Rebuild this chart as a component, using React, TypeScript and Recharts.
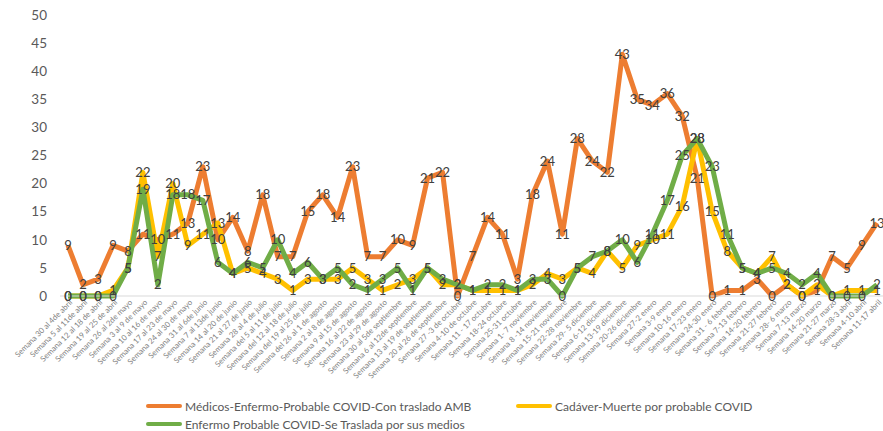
import { LineChart, Line, XAxis, YAxis, LabelList, Legend } from "recharts";

const weeks = [
  "Semana 30 al 4de abril",
  "Semana 5 al 11de abril",
  "Semana 12 al 18 de abril",
  "Semana 19 al 25 de abril",
  "Semana 26 al 2de mayo",
  "Semana 3 al 9 de mayo",
  "Semana 10 al 16 de mayo",
  "Semana 17 al 23 de mayo",
  "Semana 24 al 30 de mayo",
  "Semana 31 al 6de junio",
  "Semana 7 al 13de junio",
  "Semana 14 al 20 de junio",
  "Semana 21 al 27 de junio",
  "Semana 28 al 4 de julio",
  "Semana del 5 al 11 de julio",
  "Semana del 12 al 18 de julio",
  "Semana del 19 al 25 de julio",
  "Semana del 26 al 1 de agosto",
  "Semana 2 al 8 de agosto",
  "Semana 9 al 15 de agosto",
  "Semana 16 al 22 de agosto",
  "Semana 23 al 29 de agosto",
  "Semana 30 al 5de septiembre",
  "Semana 6 al 12de septiembre",
  "Semana 13 al 19 de septiembre",
  "Semana 20 al 26 de septiembre",
  "Semana 27 -3 de octubre",
  "Semana 4-10 de octubre",
  "Semana 11 - 17 octubre",
  "Semana 18-24 octubre",
  "Semana 25-31 octubre",
  "Semana 1- 7 noviembre",
  "Semana 8 -14 noviembre",
  "Semana 15-21 noviembre",
  "Semana 22-28 noviembre",
  "Semana 29- 5 diciembre",
  "Semana 6-12 diciembre",
  "Semana 13-19 diciembre",
  "Semana 20-26 diciembre",
  "Semana 27-2 enero",
  "Semana 3-9 enero",
  "Semana 10-16 enero",
  "Semana 17-23 enero",
  "Semana 24-30 enero",
  "Semana 31 - 6 febrero",
  "Semana 7-13 febrero",
  "Semana 14-20 febrero",
  "Semana 21-27 febrero",
  "Semana 28- 6 marzo",
  "Semana 7-13 marzo",
  "Semana 14-20 marzo",
  "Semana 21-27 marzo",
  "Semana 28-3 abril",
  "Semana 4-10 abril",
  "Semana 11-17 abril",
];

// Médicos-Enfermo-Probable COVID-Con traslado AMB
const medicos = [
  9, 2, 3, 9, 8, 11, 10, 11, 13, 23, 10, 14, 8, 18, 7, 7, 15, 18, 14, 23,
  7, 7, 10, 9, 21, 22, 0, 7, 14, 11, 3, 18, 24, 11, 28, 24, 22, 43, 35, 34,
  36, 32, 21, 0, 1, 1, 3, 0, 2, 0, 1, 7, 5, 9, 13,
];

// Cadáver-Muerte por probable COVID
const cadaver = [
  0, 0, 0, 1, 5, 22, 7, 20, 9, 11, 13, 4, 5, 4, 3, 1, 3, 3, 3, 5,
  3, 1, 2, 3, 5, 2, 2, 1, 1, 1, 1, 2, 4, 3, 5, 4, 8, 5, 9, 10,
  11, 16, 28, 15, 8, 5, 4, 7, 2, 0, 2, 0, 1, 1, 1,
];

// Enfermo Probable COVID-Se Traslada por sus medios
const enfermo = [
  0, 0, 0, 0, 5, 19, 2, 18, 18, 17, 6, 4, 6, 5, 10, 4, 6, 3, 5, 2,
  1, 3, 5, 1, 5, 3, 2, 1, 2, 2, 1, 3, 3, 0, 5, 7, 8, 10, 6, 11,
  17, 25, 28, 23, 11, 5, 4, 5, 4, 2, 4, 0, 0, 0, 2,
];

const seriesNames = [
  "Médicos-Enfermo-Probable COVID-Con traslado AMB",
  "Cadáver-Muerte por probable COVID",
  "Enfermo Probable COVID-Se Traslada por sus medios",
];

const yTicks = [0, 5, 10, 15, 20, 25, 30, 35, 40, 45, 50];

const ORANGE = "#ED7D31";
const YELLOW = "#FFC000";
const GREEN = "#70AD47";
const FONT = "Lato, 'Open Sans', sans-serif";

const data = weeks.map((week, i) => ({
  week,
  medicos: medicos[i],
  cadaver: cadaver[i],
  enfermo: enfermo[i],
}));

function WeekTick({ x, y, payload }: any) {
  return (
    <g transform={`translate(${x + 3},${y + 3}) rotate(-45)`}>
      <text textAnchor="end" dy="0.35em" fontSize={7.8} fill="#7f7f7f" fontFamily={FONT}>
        {payload.value}
      </text>
    </g>
  );
}

const legendItems = [
  { name: seriesNames[0], color: ORANGE, left: 146, top: 0 },
  { name: seriesNames[1], color: YELLOW, left: 516, top: 0 },
  { name: seriesNames[2], color: GREEN, left: 146, top: 18 },
];

function ChartLegend() {
  return (
    <div style={{ position: "relative", width: 883, height: 34, fontFamily: FONT }}>
      {legendItems.map((item) => (
        <div
          key={item.name}
          style={{
            position: "absolute",
            left: item.left,
            top: item.top,
            height: 18,
            display: "flex",
            alignItems: "center",
            fontSize: 12,
            color: "#595959",
            whiteSpace: "nowrap",
          }}
        >
          <span
            style={{
              display: "inline-block",
              width: 36,
              height: 4,
              borderRadius: 2,
              background: item.color,
              marginRight: 3,
            }}
          />
          {item.name}
        </div>
      ))}
    </div>
  );
}

const labelStyle = { fontSize: 13, fill: "#404040", fontFamily: FONT };

export default function App() {
  return (
    <div style={{ position: "absolute", left: 0, top: 0, background: "#fff", fontFamily: FONT }}>
      <LineChart width={883} height={431} data={data} margin={{ top: 15, right: 0, bottom: 0, left: 0 }}>
        <YAxis
          domain={[0, 50]}
          ticks={yTicks}
          width={60}
          axisLine={false}
          tickLine={false}
          tickSize={0}
          tickMargin={13}
          tick={{ fontSize: 13.5, fill: "#595959", fontFamily: FONT }}
        />
        <XAxis
          dataKey="week"
          interval={0}
          padding={{ left: 8, right: 6 }}
          height={101}
          axisLine={{ stroke: "#d9d9d9" }}
          tickLine={false}
          tickSize={0}
          tickMargin={2}
          tick={<WeekTick />}
        />
        <Legend verticalAlign="bottom" content={<ChartLegend />} />
        <Line dataKey="medicos" name={seriesNames[0]} stroke={ORANGE} strokeWidth={5} dot={false} strokeLinejoin="round" isAnimationActive={false} />
        <Line dataKey="cadaver" name={seriesNames[1]} stroke={YELLOW} strokeWidth={5} dot={false} strokeLinejoin="round" isAnimationActive={false} />
        <Line dataKey="enfermo" name={seriesNames[2]} stroke={GREEN} strokeWidth={5} dot={false} strokeLinejoin="round" isAnimationActive={false} />
        {/* data labels drawn after every line so they sit on top, as in Excel */}
        <Line dataKey="medicos" stroke="none" dot={false} legendType="none" isAnimationActive={false}>
          <LabelList dataKey="medicos" position="center" style={labelStyle} />
        </Line>
        <Line dataKey="cadaver" stroke="none" dot={false} legendType="none" isAnimationActive={false}>
          <LabelList dataKey="cadaver" position="center" style={labelStyle} />
        </Line>
        <Line dataKey="enfermo" stroke="none" dot={false} legendType="none" isAnimationActive={false}>
          <LabelList dataKey="enfermo" position="center" style={labelStyle} />
        </Line>
      </LineChart>
    </div>
  );
}
